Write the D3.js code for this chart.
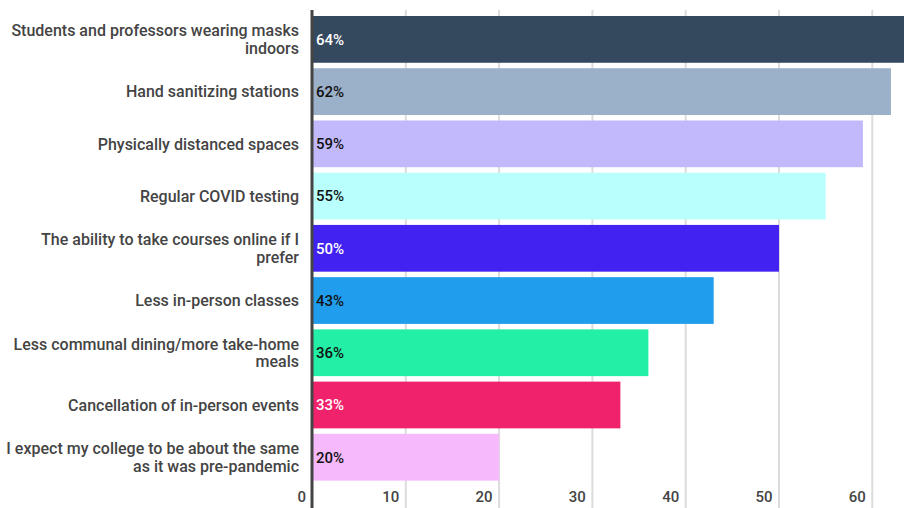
<!DOCTYPE html>
<html>
<head>
<meta charset="utf-8">
<script src="https://cdn.jsdelivr.net/npm/d3@7"></script>
<style>
    body { margin: 0; background: #fff; }
    svg { display: block; font-family: Roboto, "Noto Sans", sans-serif; }
</style>
</head>
<body>
<svg id="chart" width="904" height="508"></svg>
<script>
const categories = [
    ["Students and professors wearing masks", "indoors"],
    ["Hand sanitizing stations"],
    ["Physically distanced spaces"],
    ["Regular COVID testing"],
    ["The ability to take courses online if I", "prefer"],
    ["Less in-person classes"],
    ["Less communal dining/more take-home", "meals"],
    ["Cancellation of in-person events"],
    ["I expect my college to be about the same", "as it was pre-pandemic"]
];
const values = [64, 62, 59, 55, 50, 43, 36, 33, 20];
const barColors = ["#34495e", "#9bb0c9", "#c2b9fd", "#b8fffe", "#4222f0", "#219ded", "#23f0a6", "#f0226b", "#f5b9fc"];
const labelColors = ["#fff", "#111", "#111", "#111", "#fff", "#111", "#111", "#fff", "#111"];
const xTicks = [0, 10, 20, 30, 40, 50, 60];

const svg = d3.select("#chart");
const width = 904, height = 508;

const data = values.map((v, i) => ({
    lines: categories[i],
    value: v,
    color: barColors[i],
    textColor: labelColors[i]
}));

const x = d3.scaleLinear().domain([0, 64]).range([312.5, 909.6]);
const y = d3.scaleBand()
    .domain(d3.range(data.length))
    .range([13.4, 483.2])
    .paddingInner(0.105)
    .paddingOuter(0.05);

// Gridlines
svg.append("g")
    .selectAll("line")
    .data(xTicks.slice(1))
    .enter().append("line")
    .attr("x1", d => x(d)).attr("x2", d => x(d))
    .attr("y1", 10).attr("y2", height)
    .attr("stroke", "#dcdcdc")
    .attr("stroke-width", 2);

// Bars
svg.append("g")
    .selectAll("rect")
    .data(data)
    .enter().append("rect")
    .attr("x", x(0))
    .attr("y", (d, i) => y(i))
    .attr("width", d => x(d.value) - x(0))
    .attr("height", y.bandwidth())
    .attr("fill", d => d.color);

// Value labels inside the bars
svg.append("g")
    .selectAll("text")
    .data(data)
    .enter().append("text")
    .attr("x", x(0) + 3.5)
    .attr("y", (d, i) => y(i) + y.bandwidth() / 2)
    .attr("dy", "0.36em")
    .attr("font-size", "15px")
    .attr("font-weight", 500)
    .attr("fill", d => d.textColor)
    .text(d => `${d.value}%`);

// Category labels, one or two lines
const catG = svg.append("g");
data.forEach((d, i) => {
    const cy = y(i) + y.bandwidth() / 2;
    const lh = 17.5;
    const t = catG.append("text")
        .attr("text-anchor", "end")
        .attr("font-size", "16px")
        .attr("font-weight", 500)
        .attr("fill", "#444");
    d.lines.forEach((line, j) => {
        t.append("tspan")
            .attr("x", 299)
            .attr("y", cy + (j - (d.lines.length - 1) / 2) * lh)
            .attr("dy", "0.36em")
            .text(line);
    });
});

// X axis labels
const xAxis = d3.axisBottom(x).tickValues(xTicks).tickSize(0).tickPadding(0);
const axisG = svg.append("g")
    .attr("transform", `translate(0,${height - 17})`)
    .call(xAxis);
axisG.select(".domain").remove();
axisG.selectAll("text")
    .attr("text-anchor", "end")
    .attr("dx", "-7px")
    .attr("font-family", "Roboto, sans-serif")
    .attr("font-size", "15px")
    .attr("font-weight", 500)
    .attr("fill", "#444");

// Zero line
svg.append("line")
    .attr("x1", x(0) - 0.5).attr("x2", x(0) - 0.5)
    .attr("y1", 10).attr("y2", height)
    .attr("stroke", "#444")
    .attr("stroke-width", 3);
</script>
</body>
</html>
